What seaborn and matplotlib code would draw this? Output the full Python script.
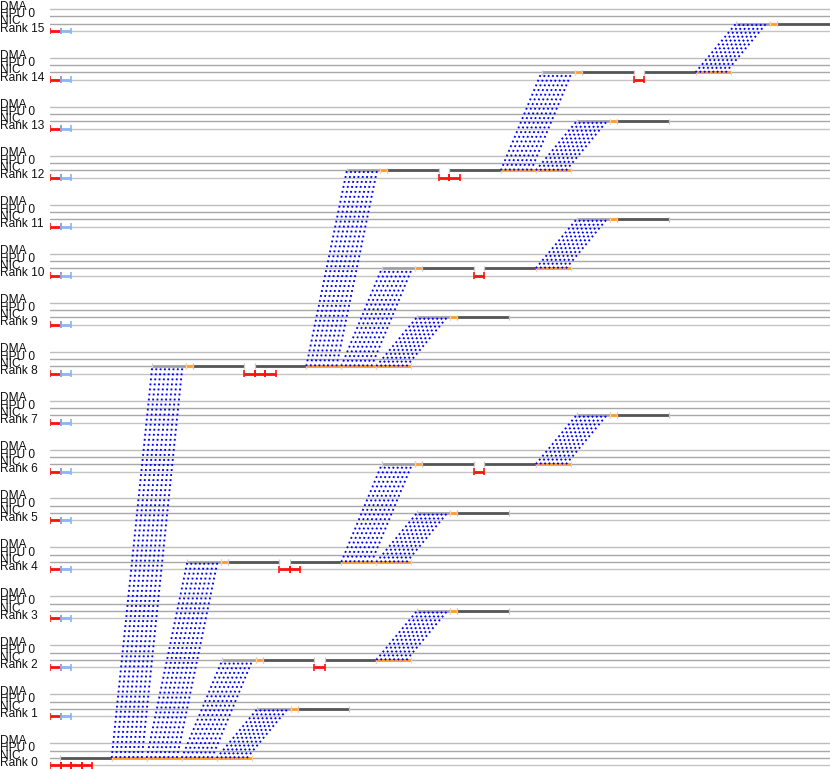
import numpy as np
import pandas as pd
import matplotlib
matplotlib.use("Agg")
import matplotlib.pyplot as plt
import seaborn as sns
from matplotlib.transforms import blended_transform_factory

# ---------------- data (time units; one row per rank) ----------------
RANKS = list(range(16))
ROW_NAMES = ["Rank", "NIC", "HPU 0", "DMA"]   # bottom -> top within a rank block
RANK_STEP = 6.68                               # rows per rank block

# rank-row marks: (rank, start, end)
INIT_RED = [(0, 0.0, 10.5), (0, 10.5, 21.0), (0, 21.0, 31.5), (0, 31.5, 42.0)] + \
           [(r, 0.0, 10.5) for r in range(1, 16)]
INIT_BLUE = [(r, 10.5, 21.0) for r in range(1, 16)]
RED = [(2, 264.3, 274.8),
       (4, 229.3, 239.8), (4, 239.8, 250.3),
       (6, 423.9, 434.4),
       (8, 194.3, 204.8), (8, 204.8, 215.3), (8, 215.3, 225.8),
       (10, 423.9, 434.4),
       (12, 388.9, 399.4), (12, 399.4, 409.9),
       (14, 583.5, 594.0)]

# NIC-row marks
RECV = [(1, 207.3, 240.8), (2, 172.3, 205.8), (3, 366.9, 400.4), (4, 137.3, 170.8),
        (5, 366.9, 400.4), (6, 331.9, 365.4), (7, 526.5, 560.0), (8, 102.3, 135.8),
        (9, 366.9, 400.4), (10, 331.9, 365.4), (11, 526.5, 560.0), (12, 296.9, 330.4),
        (13, 526.5, 560.0), (14, 491.5, 525.0), (15, 686.1, 719.6)]
POST = [(1, 240.8, 247.8), (2, 205.8, 212.8), (3, 400.4, 407.4), (4, 170.8, 177.8),
        (5, 400.4, 407.4), (6, 365.4, 372.4), (7, 560.0, 567.0), (8, 135.8, 142.8),
        (9, 400.4, 407.4), (10, 365.4, 372.4), (11, 560.0, 567.0), (12, 330.4, 337.4),
        (13, 560.0, 567.0), (14, 525.0, 532.0), (15, 719.6, 726.6)]
BUSY = [(0, 10.0, 61.7), (1, 247.8, 299.3), (2, 212.8, 264.3), (3, 407.4, 458.9),
        (4, 177.8, 229.3), (5, 407.4, 458.9), (6, 372.4, 423.9), (7, 567.0, 618.5),
        (8, 142.8, 194.3), (9, 407.4, 458.9), (10, 372.4, 423.9), (11, 567.0, 618.5),
        (12, 337.4, 388.9), (13, 567.0, 618.5), (14, 532.0, 583.5), (15, 726.6, 781.0),
        (2, 274.8, 326.3), (4, 239.8, 291.3), (6, 434.4, 485.9), (8, 204.8, 256.3),
        (10, 434.4, 485.9), (12, 399.4, 450.9), (14, 594.0, 645.5)]
GAP = [(2, 264.3, 274.8), (4, 229.3, 239.8), (6, 423.9, 434.4), (8, 194.3, 204.8),
       (10, 423.9, 434.4), (12, 388.9, 399.4), (14, 583.5, 594.0)]
SEND = [(0, 61.7, 96.7), (0, 96.7, 131.7), (0, 131.7, 166.7), (0, 166.7, 201.7),
        (8, 256.3, 291.3), (8, 291.3, 326.3), (8, 326.3, 361.3),
        (4, 291.3, 326.3), (4, 326.3, 361.3),
        (2, 326.3, 361.3),
        (12, 450.9, 485.9), (12, 485.9, 520.9),
        (10, 485.9, 520.9), (6, 485.9, 520.9),
        (14, 645.5, 680.5)]

# transfers: (src, dst, send start, receive start)
TRANSFERS = [(0, 8, 61.7, 102.3), (0, 4, 96.7, 137.3), (0, 2, 131.7, 172.3), (0, 1, 166.7, 207.3),
             (8, 12, 256.3, 296.9), (8, 10, 291.3, 331.9), (8, 9, 326.3, 366.9),
             (4, 6, 291.3, 331.9), (4, 5, 326.3, 366.9), (2, 3, 326.3, 366.9),
             (12, 14, 450.9, 491.5), (12, 13, 485.9, 526.5), (10, 11, 485.9, 526.5),
             (6, 7, 485.9, 526.5), (14, 15, 645.5, 686.1)]
PACKET_OFFSETS = [0.0, 4.3, 8.6, 12.9, 17.2, 21.5, 25.8, 30.1]

# ---------------- figure ----------------
sns.set_theme(style="white")
plt.rcParams["font.family"] = ["Liberation Sans", "DejaVu Sans"]

W, H = 830, 769
fig = plt.figure(figsize=(W / 100, H / 100), dpi=100)
ax = fig.add_axes([50 / W, 0, 780 / W, 1])

GRID_COLORS = ["#c4c4c4", "#a8a8a8", "#a8a8a8", "#bdbdbd"]


def ypos(rank, row):
    return rank * RANK_STEP + row


# grid lines
for r in RANKS:
    for row in range(4):
        ax.axhline(ypos(r, row), color=GRID_COLORS[row], lw=1.0, zorder=0)

# labels
trans = blended_transform_factory(fig.transFigure, ax.transData)
for r in RANKS:
    for row, name in enumerate(ROW_NAMES):
        label = f"Rank {r}" if name == "Rank" else name
        ax.text(0.0, ypos(r, row) - 0.1, label, transform=trans, fontsize=8.6,
                ha="left", va="baseline", color="#111111")


def draw(segs, row, color, lw, capcolor, caph=0.38, caplw=0.9, z=2):
    if not segs:
        return
    df = pd.DataFrame(segs, columns=["rank", "start", "end"])
    y = df["rank"].to_numpy() * RANK_STEP + row
    ax.hlines(y, df["start"], df["end"], colors=color, lw=lw, zorder=z,
              capstyle="butt")
    if capcolor is not None:
        xs = np.concatenate([df["start"].to_numpy(), df["end"].to_numpy()])
        ys = np.concatenate([y, y])
        ax.vlines(xs, ys - caph, ys + caph, colors=capcolor, lw=caplw, zorder=z)


# NIC row
draw(GAP, 1, "white", 2.0, None, z=1)
draw(RECV, 1, "#9a9a9a", 1.8, "#cfcfcf")
draw(POST, 1, "#ff9a2e", 2.0, "#ffcf9f")
draw(BUSY, 1, "#555555", 2.0, "#c8c8c8")
draw(SEND, 1, "#ff9a2e", 2.0, "#ffcf9f")
# rank row
draw(INIT_RED, 0, "#ff1010", 2.0, "#ff1010", caph=0.45, caplw=1.2)
draw(INIT_BLUE, 0, "#8ab6f5", 2.0, "#8ab6f5", caph=0.45, caplw=1.2)
draw(RED, 0, "#ff1010", 2.0, "#ff1010", caph=0.45, caplw=1.2)

# packet lines (blue dotted) drawn with seaborn
rows = []
lid = 0
for src, dst, s0, r0 in TRANSFERS:
    for off in PACKET_OFFSETS:
        rows.append({"line": lid, "t": s0 + off, "y": ypos(src, 1)})
        rows.append({"line": lid, "t": r0 + off, "y": ypos(dst, 1)})
        lid += 1
pk = pd.DataFrame(rows)
n_before = len(ax.lines)
sns.lineplot(data=pk, x="t", y="y", units="line", estimator=None, sort=False,
             color="#0000ff", lw=1.35, ax=ax, legend=False, zorder=5)
for line in ax.lines[n_before:]:
    line.set_linestyle((0, (1.0, 1.7)))
    line.set_zorder(5)

ax.set_xlim(0, 780)
ax.set_ylim(-0.505, -0.505 + H / 7.33)
ax.axis("off")
fig.savefig("out.png", dpi=100)
